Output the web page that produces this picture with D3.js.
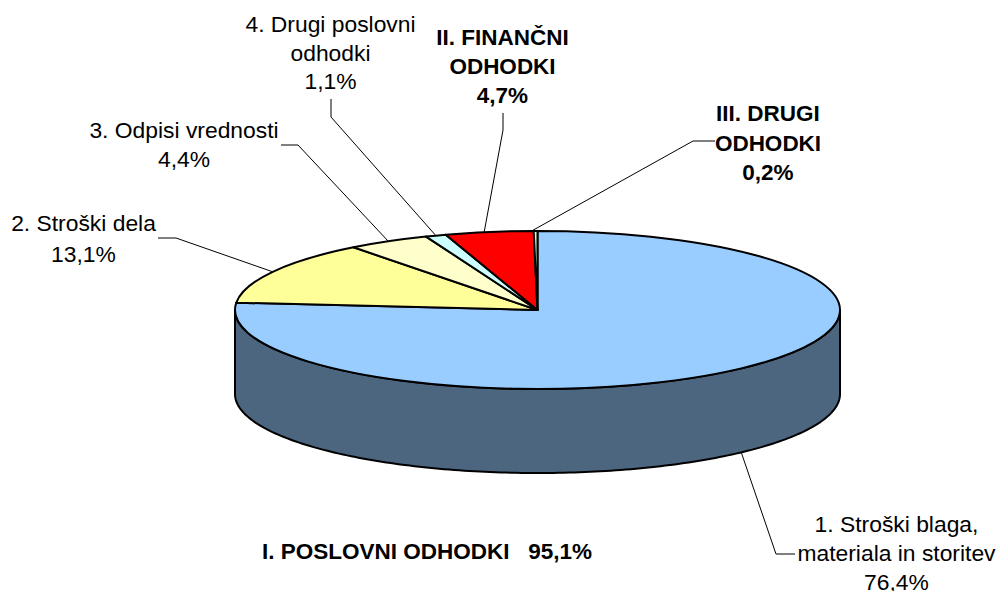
<!DOCTYPE html>
<html>
<head>
<meta charset="utf-8">
<script src="https://cdn.jsdelivr.net/npm/d3@7"></script>
<style>
  html, body { margin: 0; background: #fff; }
  text { font-family: "Liberation Sans", Arial, sans-serif; font-size: 22.85px; fill: #000; text-anchor: middle; }
  .bold { font-weight: bold; font-size: 22.5px; }
</style>
</head>
<body>
<div id="chart"></div>
<script>
// Data, clockwise from 12 o'clock
const shares = [76.4, 13.1, 4.4, 1.1, 4.7, 0.2];
const shareLabels = ['76,4%', '13,1%', '4,4%', '1,1%', '4,7%', '0,2%'];
const names = [
  ['1. Stroški blaga,', 'materiala in storitev'],
  ['2. Stroški dela'],
  ['3. Odpisi vrednosti'],
  ['4. Drugi poslovni', 'odhodki'],
  ['II. FINANČNI', 'ODHODKI'],
  ['III. DRUGI', 'ODHODKI'],
];
const boldLabels = [false, false, false, false, true, true];
const colors = ['#99ccff', '#ffff99', '#ffffcc', '#ccffff', '#ff0000', '#ccffcc'];
const wallColor = '#4d6680';
const groupLabel = 'I. POSLOVNI ODHODKI   95,1%';

// Layout
const width = 997;
const height = 591;
const cx = 537.5;
const cy = 310;
const rx = 302.5;
const ry = 79;
const depth = 84;

// where each label sits and how its leader bends on the way to it
const labelPos = [[896.5, 532, 29], [83.5, 231, 30.5], [184, 138, 29], [330.5, 32, 28.5], [502.5, 45, 29], [768, 121, 29.5]];
const elbows = [
  [[776, 554], [795, 554]],
  [[176, 238], [158, 238]],
  [[298, 145], [281, 145]],
  [[331, 117], [331, 99]],
  [[503, 130], [503, 113]],
  [[693, 141], [715, 141]],
];
// the thin slices' leaders land a little left of the true mid angle
const leaderShift = [0, 0, 0, 0, -5, -4];

const x = d3.scaleLinear([-1, 1], [cx - rx, cx + rx]);
const y = d3.scaleLinear([-1, 1], [cy - ry, cy + ry]);
// d3 angles: 0 at the top, clockwise
const px = (a) => x(Math.sin(a));
const py = (a) => y(-Math.cos(a));

const svg = d3.select('#chart').append('svg')
  .attr('width', width)
  .attr('height', height)
  .attr('viewBox', [0, 0, width, height])
  .style('display', 'block');

const slices = d3.pie().sort(null)(shares);

// side wall, only the front half shows
const wallAngles = d3.range(90, 270.5, 1).map((d) => (d * Math.PI) / 180);
const wall = d3.area()
  .x((a) => px(a))
  .y0((a) => py(a))
  .y1((a) => py(a) + depth);
svg.append('path')
  .datum(wallAngles)
  .attr('d', wall)
  .attr('fill', wallColor)
  .attr('stroke', '#000')
  .attr('stroke-width', 2);

// top face: a unit pie squashed into the ellipse
const arc = d3.arc().innerRadius(0).outerRadius(rx);
svg.append('g')
  .attr('transform', `translate(${cx},${cy}) scale(1,${ry / rx})`)
  .selectAll('path')
  .data(slices)
  .join('path')
  .attr('d', arc)
  .attr('fill', (d, i) => colors[i])
  .attr('stroke', '#000')
  .attr('stroke-width', 2)
  .attr('stroke-linejoin', 'round')
  .attr('vector-effect', 'non-scaling-stroke');

// leader lines
const midAngle = (d) => (d.startAngle + d.endAngle) / 2;
svg.append('g')
  .selectAll('path')
  .data(slices)
  .join('path')
  .attr('d', (d, i) => {
    const a = midAngle(d);
    const start = [px(a) + leaderShift[i], py(a) + (i === 0 ? depth : 0)];
    return d3.line()([start, ...elbows[i]]);
  })
  .attr('fill', 'none')
  .attr('stroke', '#000')
  .attr('stroke-width', 1);

// labels
const labels = svg.append('g')
  .selectAll('text')
  .data(slices)
  .join('text')
  .attr('class', (d, i) => (boldLabels[i] ? 'bold' : null))
  .attr('y', (d, i) => labelPos[i][1]);
labels.selectAll('tspan')
  .data((d, i) => [...names[i], shareLabels[i]].map((t, k) => ({ t, k, i })))
  .join('tspan')
  .attr('x', (d) => labelPos[d.i][0])
  .attr('y', (d) => labelPos[d.i][1] + d.k * labelPos[d.i][2])
  .text((d) => d.t);

svg.append('text')
  .attr('class', 'bold')
  .attr('x', 427)
  .attr('y', 559)
  .style('white-space', 'pre')
  .text(groupLabel);
</script>
</body>
</html>
